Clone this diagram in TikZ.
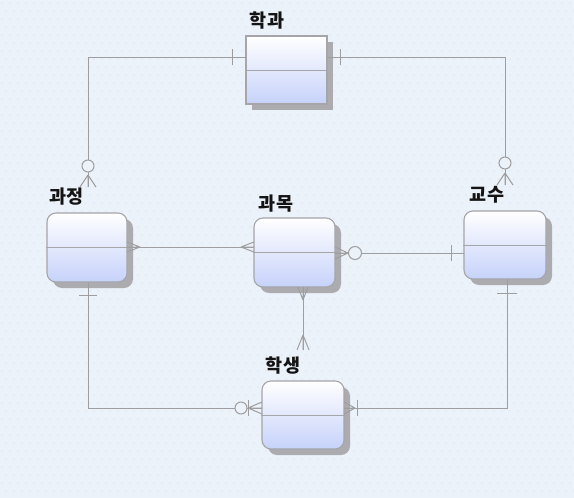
\documentclass[tikz,border=0pt]{standalone}
\usepackage{fontspec}
\newfontfamily\kr{Noto Sans CJK KR}
\usetikzlibrary{shadows}
\definecolor{bg}{RGB}{236,242,250}
\definecolor{dotc}{RGB}{222,230,242}
\definecolor{ln}{RGB}{158,158,160}
\definecolor{ebot}{RGB}{198,210,250}
\definecolor{eborder}{RGB}{165,165,170}
\definecolor{shd}{RGB}{172,172,176}
\tikzset{
  entity/.style={draw=eborder, line width=1.1pt, top color=white, bottom color=ebot,
    minimum width=81pt, minimum height=68pt, inner sep=0pt,
    drop shadow={shadow xshift=6pt, shadow yshift=-6pt, fill=shd, opacity=1}},
  rnd/.style={rounded corners=9pt},
  divider/.style={draw=eborder, line width=1pt},
  lbl/.style={font=\kr\bfseries\fontsize{18.5}{20}\selectfont, inner sep=0pt, text=black!92},
  conn/.style={draw=ln, line width=1pt},
  pics/crow/.style n args={2}{code={\draw[conn] (#1,0) -- (0,#2) (#1,0) -- (0,-#2) (#1,0) -- (0,0);}},
  pics/onebar/.style n args={2}{code={\draw[conn] (#1,-#2) -- (#1,#2);}},
  pics/zero/.style n args={2}{code={\draw[conn, fill=bg] (#1,0) circle (#2pt);}},
}
\begin{document}
\begin{tikzpicture}[x=1pt,y=-1pt]
\useasboundingbox (0,0) rectangle (574,498);
\fill[bg] (0,0) rectangle (574,498);
\foreach \i in {0,...,71}{
  \foreach \j in {0,...,62}{
    \pgfmathsetmacro{\xx}{\i*8+mod(\j,2)*4+2}
    \fill[dotc] (\xx,\j*8+3) circle (0.9pt);
  }
}
% entities
\node[entity] (hakgwa) at (286.5,70) {};
\node[entity, rnd, minimum width=80pt, minimum height=69pt] (gwajeong) at (87,247.5) {};
\node[entity, rnd, minimum height=69pt] (gwamok) at (294.5,252.5) {};
\node[entity, rnd, minimum width=82pt] (gyosu) at (505,245) {};
\node[entity, rnd, minimum width=82pt] (haksaeng) at (303,415) {};
\foreach \n in {hakgwa,gwajeong,gwamok,gyosu,haksaeng}{
  \draw[divider] (\n.west) -- (\n.east);
}
% labels
\node[lbl] (lhakgwa) at (267,21) {학과};
\node[lbl] (lgwajeong) at (66.5,197) {과정};
\node[lbl] (lgwamok) at (276,203.5) {과목};
\node[lbl] (lgyosu) at (487,195) {교수};
\node[lbl] (lhaksaeng) at (283,366) {학생};
% attach points
\coordinate (hkl) at (246,57);
\coordinate (hkr) at (327,57);
\coordinate (gjt) at (88,187);
\coordinate (gjr) at (127,247);
\coordinate (gjb) at (88,282);
\coordinate (gml) at (254,247);
\coordinate (gmr) at (335,253);
\coordinate (gmb) at (303,287);
\coordinate (gst) at (505,185);
\coordinate (gsl) at (464,253);
\coordinate (gsb) at (507,279);
\coordinate (hst) at (303,350);
\coordinate (hsl) at (262,408);
\coordinate (hsr) at (344,408);
% connectors
\draw[conn] (hkl) -| (gjt);
\draw[conn] (hkr) -| (gst);
\draw[conn] (gjr) -- (gml);
\draw[conn] (gmr) -- (gsl);
\draw[conn] (gmb) -- (hst);
\draw[conn] (gjb) |- (hsl);
\draw[conn] (gsb) |- (hsr);
% ends
\path (hkl) pic[rotate=180] {onebar={14}{8}};
\path (gjt) pic[rotate=90] {crow={12}{8}};
\path (gjt) pic[rotate=90] {zero={21}{6}};
\path (hkr) pic {onebar={13}{8}};
\path (gst) pic[rotate=90] {crow={12}{8}};
\path (gst) pic[rotate=90] {zero={22}{6}};
\path (gjr) pic {crow={13}{5}};
\path (gml) pic[rotate=180] {crow={13}{5}};
\path (gmr) pic {crow={13}{6}};
\path (gmr) pic {zero={20}{6.5}};
\path (gsl) pic[rotate=180] {onebar={13}{8}};
\path (gmb) pic[rotate=-90] {crow={13}{5}};
\path (hst) pic[rotate=90] {crow={15}{6}};
\path (gjb) pic[rotate=-90] {onebar={13}{9}};
\path (hsl) pic[rotate=180] {crow={14}{6}};
\path (hsl) pic[rotate=180] {onebar={14}{8}};
\path (hsl) pic[rotate=180] {zero={21}{6}};
\path (gsb) pic[rotate=-90] {onebar={14}{10}};
\path (hsr) pic {crow={11}{6}};
\path (hsr) pic {onebar={13}{8}};
\end{tikzpicture}
\end{document}
